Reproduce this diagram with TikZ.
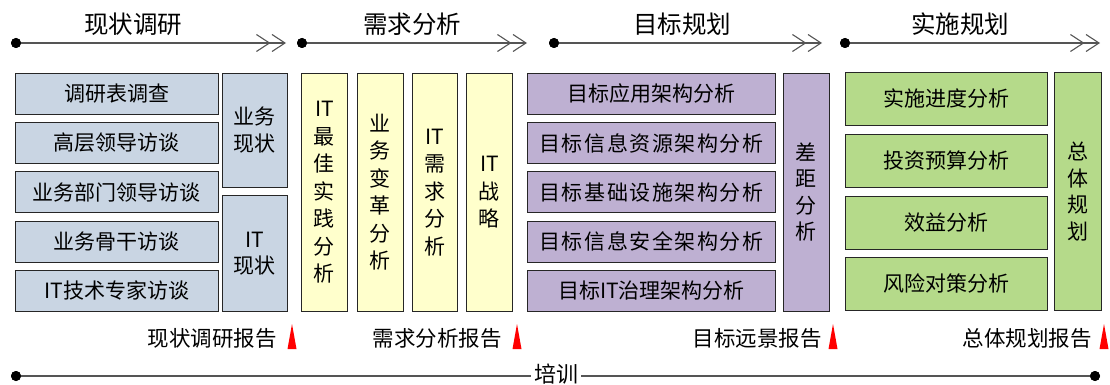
\documentclass[tikz,border=0pt]{standalone}
\usepackage{fontspec}
\setmainfont{Noto Sans CJK SC}
\usetikzlibrary{arrows.meta}
\definecolor{cblue}{RGB}{201,213,227}
\definecolor{cyellow}{RGB}{255,255,204}
\definecolor{cpurple}{RGB}{190,176,210}
\definecolor{cgreen}{RGB}{181,218,138}
\definecolor{cline}{RGB}{85,85,85}
\newcommand{\wide}[1]{{\addfontfeature{LetterSpace=7.5}#1}}
\begin{document}
\begin{tikzpicture}[x=1pt,y=-1pt,
  cell/.style={draw=black!85, line width=0.9pt, inner sep=0pt, anchor=north west,
    font=\fontsize{21}{26.5}\selectfont, align=center, text=black},
  tall/.style={cell, font=\fontsize{21}{27.5}\selectfont},
  phase/.style={draw=cline, line width=1.4pt,
    -{Straight Barb[length=13pt,width=17pt,line width=1.1pt,sep=1pt] Straight Barb[length=13pt,width=17pt,line width=1.1pt]}},
  phaselabel/.style={font=\fontsize{24.5}{28}\selectfont, inner sep=0pt},
  report/.style={font=\fontsize{21.5}{26}\selectfont, inner sep=0pt},
  dot/.style={circle, fill=black, inner sep=0pt, minimum size=10pt},
  base/.style={draw=cline, line width=1.4pt}]
\useasboundingbox (0,0) rectangle (1110,385);

% ---- phase arrows ----
\node[dot] (d1) at (16,43) {};
\coordinate (e1) at (286,43);
\node[dot] (d2) at (302,43) {};
\coordinate (e2) at (527,43);
\node[dot] (d3) at (554,43) {};
\coordinate (e3) at (822,43);
\node[dot] (d4) at (845,43) {};
\coordinate (e4) at (1100,43);
\draw[phase] (d1.center) -- (e1);
\draw[phase] (d2.center) -- (e2);
\draw[phase] (d3.center) -- (e3);
\draw[phase] (d4.center) -- (e4);
\node[dot] at (d1) {};\node[dot] at (d2) {};\node[dot] at (d3) {};\node[dot] at (d4) {};
\node[phaselabel] (l1) at (133,24) {现状调研};
\node[phaselabel] (l2) at (412,24) {需求分析};
\node[phaselabel] (l3) at (682,24) {目标规划};
\node[phaselabel] (l4) at (960,24) {实施规划};

% ---- phase 1 ----
\node[cell, fill=cblue, minimum width=203pt, minimum height=41pt] (a1) at (15,72.7) {调研表调查};
\node[cell, fill=cblue, minimum width=203pt, minimum height=41pt] (a2) at (15,122) {高层领导访谈};
\node[cell, fill=cblue, minimum width=203pt, minimum height=41pt] (a3) at (15,171.3) {业务部门领导访谈};
\node[cell, fill=cblue, minimum width=203pt, minimum height=41pt] (a4) at (15,220.6) {业务骨干访谈};
\node[cell, fill=cblue, minimum width=203pt, minimum height=41pt] (a5) at (15,269.9) {IT技术专家访谈};
\node[cell, fill=cblue, minimum width=65pt, minimum height=114pt] (bs) at (222,72.7) {业务\\现状};
\node[cell, fill=cblue, minimum width=65pt, minimum height=116pt] (its) at (222,195) {IT\\现状};

% ---- phase 2 ----
\node[tall, fill=cyellow, minimum width=46pt, minimum height=238pt] (y1) at (301,72.7) {IT\\最\\佳\\实\\践\\分\\析};
\node[tall, fill=cyellow, minimum width=46pt, minimum height=238pt] (y2) at (357,72.7) {业\\务\\变\\革\\分\\析};
\node[tall, fill=cyellow, minimum width=45pt, minimum height=238pt] (y3) at (412,72.7) {IT\\需\\求\\分\\析};
\node[tall, fill=cyellow, minimum width=46pt, minimum height=238pt] (y4) at (466,72.7) {IT\\战\\略};

% ---- phase 3 ----
\node[cell, fill=cpurple, minimum width=248pt, minimum height=41pt] (p1) at (527,72.7) {目标应用架构分析};
\node[cell, fill=cpurple, minimum width=248pt, minimum height=41pt] (p2) at (527,122) {\wide{目标信息资源架构分析}};
\node[cell, fill=cpurple, minimum width=248pt, minimum height=41pt] (p3) at (527,171.3) {\wide{目标基础设施架构分析}};
\node[cell, fill=cpurple, minimum width=248pt, minimum height=41pt] (p4) at (527,220.6) {\wide{目标信息安全架构分析}};
\node[cell, fill=cpurple, minimum width=248pt, minimum height=41pt] (p5) at (527,269.9) {目标IT治理架构分析};
\node[cell, fill=cpurple, minimum width=46pt, minimum height=238pt] (gap) at (783,72.7) {差\\距\\分\\析};

% ---- phase 4 ----
\node[cell, fill=cgreen, minimum width=202pt, minimum height=53pt] (g1) at (845,72) {实施进度分析};
\node[cell, fill=cgreen, minimum width=202pt, minimum height=53pt] (g2) at (845,134) {投资预算分析};
\node[cell, fill=cgreen, minimum width=202pt, minimum height=53pt] (g3) at (845,196) {效益分析};
\node[cell, fill=cgreen, minimum width=202pt, minimum height=53pt] (g4) at (845,257) {风险对策分析};
\node[cell, fill=cgreen, minimum width=47pt, minimum height=238pt] (plan) at (1054,72) {总\\体\\规\\划};

% ---- reports ----
\node[report] (r1) at (212,338) {现状调研报告};
\node[report] (r2) at (437,338) {需求分析报告};
\node[report] (r3) at (757,338) {目标远景报告};
\node[report] (r4) at (1027,338) {总体规划报告};
\fill[red] (292,324) -- ++(4.5,25) -- ++(-9,0) -- cycle;
\fill[red] (517,324) -- ++(4.5,25) -- ++(-9,0) -- cycle;
\fill[red] (833,324) -- ++(4.5,25) -- ++(-9,0) -- cycle;
\fill[red] (1104,324) -- ++(4.5,25) -- ++(-9,0) -- cycle;

% ---- training line ----
\node[dot] (t1) at (16,376) {};
\node[dot] (t2) at (1095,376) {};
\node[report, font=\fontsize{22}{26}\selectfont, inner xsep=3pt] (train) at (556,374) {培训};
\draw[base] (t1.center) -- (train.west |- t1);
\draw[base] (train.east |- t2) -- (t2.center);
\node[dot] at (t1) {};\node[dot] at (t2) {};
\end{tikzpicture}
\end{document}
